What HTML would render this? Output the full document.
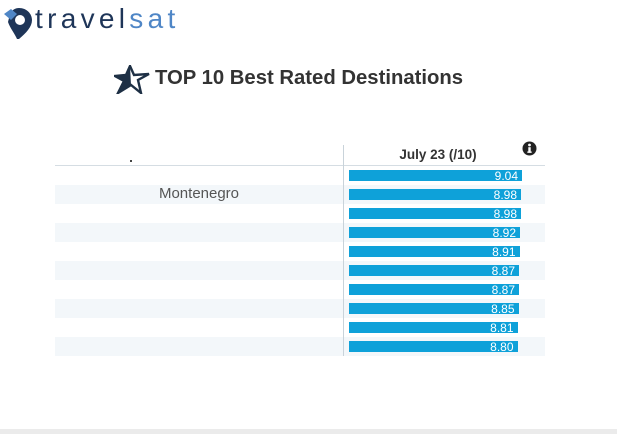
<!DOCTYPE html>
<html>
<head>
<meta charset="utf-8">
<style>
  html,body{margin:0;padding:0;background:#fff;}
  body{width:617px;height:434px;position:relative;overflow:hidden;font-family:"Liberation Sans",sans-serif;}
  .abs{position:absolute;}
  .logo{left:35px;top:1px;font-size:28px;letter-spacing:4.3px;color:#1e3558;line-height:36px;white-space:nowrap;}
  .logo span{color:#4f86c6;}
  .title{left:155px;top:67px;font-size:20.3px;font-weight:bold;color:#333;white-space:nowrap;line-height:22px;}
  .stripe{left:55px;width:490px;height:19px;background:#f3f7fa;}
  .bar{left:349px;height:11px;background:#0ea1d9;color:#fff;font-size:12px;text-align:right;box-sizing:border-box;overflow:visible;}
  .bar span{position:absolute;right:4px;top:0px;line-height:12px;}
  .hdr{left:350px;width:176px;top:147px;text-align:center;font-size:13.5px;font-weight:bold;color:#333;}
  .country{left:55px;width:288px;text-align:center;font-size:15px;color:#555;}
</style>
</head>
<body>
  <!-- logo pin -->
  <svg class="abs" style="left:2px;top:6px" width="32" height="34" viewBox="0 0 32 34">
    <path d="M17 2 C25 2 30 8 30 14 C30 21 24 27 17 33 L15 33 C13 28 8 22 6 16 L8 8 C10 4 13 2 17 2 Z" fill="#1e3558"/>
    <circle cx="18" cy="14" r="5" fill="#fff"/>
    <path d="M2 8 L9 3 L15 8 L9 14 Z" fill="#4f86c6"/>
  </svg>
  <div class="abs logo">travel<span>sat</span></div>

  <!-- star -->
  <svg class="abs" style="left:114px;top:65px" width="38" height="29" viewBox="0 0 38 29">
    <path d="M16 1 L20 10 L35 9 L24 15 L27 28 L17 20 L4 28 L10 16 L1 11 L12 10 Z" fill="none" stroke="#1e3045" stroke-width="2.4" stroke-linejoin="miter"/>
    <path d="M16 1 L17 20 L4 28 L10 16 L1 11 L12 10 Z" fill="#1e3045"/>
  </svg>
  <div class="abs title">TOP 10 Best Rated Destinations</div>

  <!-- header -->
  <div class="abs hdr">July 23 (/10)</div>
  <svg class="abs" style="left:522px;top:141px" width="15" height="15" viewBox="0 0 15 15">
    <circle cx="7.5" cy="7.5" r="7" fill="#222"/>
    <circle cx="7.5" cy="4" r="1.4" fill="#fff"/>
    <rect x="6.3" y="6.2" width="2.4" height="5.5" fill="#fff"/>
    <rect x="5.3" y="10.5" width="4.4" height="1.3" fill="#fff"/>
  </svg>
  <div class="abs" style="left:55px;top:165px;width:490px;height:1px;background:#d5dde3;"></div>
  <div class="abs" style="left:130px;top:160px;width:2px;height:2px;background:#444;"></div>

  <!-- stripes -->
  <div class="abs stripe" style="top:185px"></div>
  <div class="abs stripe" style="top:223px"></div>
  <div class="abs stripe" style="top:261px"></div>
  <div class="abs stripe" style="top:299px"></div>
  <div class="abs stripe" style="top:337px"></div>

  <!-- vertical line -->
  <div class="abs" style="left:343px;top:145px;width:1px;height:211px;background:#c9d3da;"></div>

  <div class="abs country" style="top:185px">Montenegro</div>

  <!-- bars -->
  <div class="abs bar" style="top:170px;width:173px"><span>9.04</span></div>
  <div class="abs bar" style="top:189px;width:172px"><span>8.98</span></div>
  <div class="abs bar" style="top:208px;width:172px"><span>8.98</span></div>
  <div class="abs bar" style="top:227px;width:171px"><span>8.92</span></div>
  <div class="abs bar" style="top:246px;width:170.5px"><span>8.91</span></div>
  <div class="abs bar" style="top:265px;width:170px"><span>8.87</span></div>
  <div class="abs bar" style="top:284px;width:170px"><span>8.87</span></div>
  <div class="abs bar" style="top:303px;width:169.5px"><span>8.85</span></div>
  <div class="abs bar" style="top:322px;width:168.5px"><span>8.81</span></div>
  <div class="abs bar" style="top:341px;width:168.5px"><span>8.80</span></div>

  <!-- bottom strip -->
  <div class="abs" style="left:0;top:429px;width:617px;height:5px;background:#ebebeb;"></div>
</body>
</html>
